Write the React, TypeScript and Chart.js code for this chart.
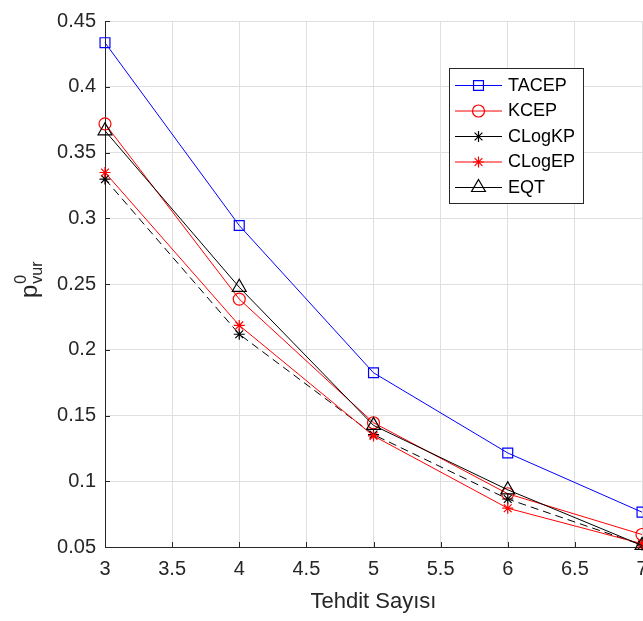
import React, { useEffect, useRef } from "react";
import { Chart, registerables } from "chart.js";

Chart.register(...registerables);

const threatCounts = [3, 4, 5, 6, 7];
const tacep = [0.4335, 0.2945, 0.1825, 0.1215, 0.0765];
const kcep = [0.3718, 0.2385, 0.1445, 0.0905, 0.0595];
const clogkp = [0.3298, 0.2118, 0.1355, 0.0865, 0.0515];
const clogep = [0.3348, 0.2185, 0.1345, 0.0795, 0.0525];
const eqt = [0.3665, 0.2475, 0.1425, 0.0935, 0.0512];
const seriesNames = ["TACEP", "KCEP", "CLogKP", "CLogEP", "EQT"];
const xTitle = "Tehdit Sayısı";

const FONT = '"Liberation Sans", Arial, Helvetica, sans-serif';
const AX = "#262626";

type Style = { color: string; marker: string; radius: number; dash: number[] };
const styles: Style[] = [
  { color: "#0000ff", marker: "rect", radius: 7, dash: [] },
  { color: "#ff0000", marker: "circle", radius: 6, dash: [] },
  { color: "#000000", marker: "star", radius: 5.5, dash: [8, 5] },
  { color: "#ff0000", marker: "star", radius: 5.5, dash: [] },
  { color: "#000000", marker: "triangle", radius: 8, dash: [] },
];

function drawMarker(ctx: CanvasRenderingContext2D, m: string, x: number, y: number, r: number, color: string) {
  ctx.save();
  ctx.strokeStyle = color;
  ctx.lineWidth = 1.2;
  ctx.setLineDash([]);
  ctx.beginPath();
  if (m === "rect") {
    const s = r * Math.SQRT1_2;
    ctx.rect(x - s, y - s, 2 * s, 2 * s);
  } else if (m === "circle") {
    ctx.arc(x, y, r, 0, Math.PI * 2);
  } else if (m === "star") {
    for (let k = 0; k < 4; k++) {
      const a = (k * Math.PI) / 4;
      ctx.moveTo(x + Math.cos(a) * r, y + Math.sin(a) * r);
      ctx.lineTo(x - Math.cos(a) * r, y - Math.sin(a) * r);
    }
  } else if (m === "triangle") {
    let rad = 0;
    ctx.moveTo(x + Math.sin(rad) * r, y - Math.cos(rad) * r);
    rad += (2 * Math.PI) / 3;
    ctx.lineTo(x + Math.sin(rad) * r, y - Math.cos(rad) * r);
    rad += (2 * Math.PI) / 3;
    ctx.lineTo(x + Math.sin(rad) * r, y - Math.cos(rad) * r);
    ctx.closePath();
  }
  ctx.stroke();
  ctx.restore();
}

const decorPlugin = {
  id: "decor",
  beforeDatasetsDraw(chart: any) {
    const ctx = chart.ctx as CanvasRenderingContext2D;
    const { left, bottom } = chart.chartArea;
    const xs = chart.scales.x;
    const ys = chart.scales.y;
    ctx.save();
    ctx.strokeStyle = AX;
    ctx.lineWidth = 1;
    ctx.beginPath();
    xs.ticks.forEach((t: any) => {
      const px = Math.round(xs.getPixelForValue(t.value)) + 0.5;
      ctx.moveTo(px, bottom);
      ctx.lineTo(px, bottom - 5);
    });
    ys.ticks.forEach((t: any) => {
      const py = Math.round(ys.getPixelForValue(t.value)) + 0.5;
      ctx.moveTo(left, py);
      ctx.lineTo(left + 5, py);
    });
    ctx.stroke();
    ctx.restore();
  },
  afterDraw(chart: any) {
    const ctx = chart.ctx as CanvasRenderingContext2D;
    const { left, right, top, bottom } = chart.chartArea;
    ctx.save();
    // x title
    ctx.fillStyle = AX;
    ctx.font = `22px ${FONT}`;
    ctx.textAlign = "center";
    ctx.textBaseline = "alphabetic";
    ctx.fillText(xTitle, (left + 642) / 2, 608);

    // y title p^0_vur
    ctx.save();
    ctx.translate(37, 298);
    ctx.rotate(-Math.PI / 2);
    ctx.textAlign = "left";
    ctx.font = `24px ${FONT}`;
    ctx.fillText("p", 0, 0);
    const pw = ctx.measureText("p").width;
    ctx.font = `16px ${FONT}`;
    ctx.fillText("0", pw + 1, -11);
    ctx.fillText("vur", pw + 1, 5);
    ctx.restore();

    // legend
    const bx = 449.5, by = 68.5, bw = 134, bh = 135;
    ctx.fillStyle = "#ffffff";
    ctx.fillRect(bx, by, bw, bh);
    ctx.strokeStyle = AX;
    ctx.lineWidth = 1;
    ctx.strokeRect(bx, by, bw, bh);
    const rows = [85, 110.5, 136, 161.5, 187];
    seriesNames.forEach((name, i) => {
      const st = styles[i];
      const yy = rows[i] + 0.5;
      ctx.strokeStyle = st.color;
      ctx.lineWidth = 1;
      ctx.setLineDash([]);
      ctx.beginPath();
      ctx.moveTo(455, yy);
      ctx.lineTo(502, yy);
      ctx.stroke();
      drawMarker(ctx, st.marker, 478.5, yy, st.radius, st.color);
      ctx.fillStyle = "#000000";
      ctx.font = `18px ${FONT}`;
      ctx.textAlign = "left";
      ctx.textBaseline = "middle";
      ctx.fillText(name, 508, rows[i] + 1);
    });
    ctx.restore();
  },
};

export default function App() {
  const ref = useRef<HTMLCanvasElement | null>(null);
  useEffect(() => {
    document.body.style.overflow = "hidden";
    const canvas = ref.current!;
    const all = [tacep, kcep, clogkp, clogep, eqt];
    const datasets = all.map((vals, i) => ({
      label: seriesNames[i],
      data: threatCounts.map((x, j) => ({ x, y: vals[j] })),
      borderColor: styles[i].color,
      backgroundColor: "rgba(0,0,0,0)",
      borderWidth: 1,
      borderDash: styles[i].dash,
      pointStyle: styles[i].marker,
      pointRadius: styles[i].radius,
      pointBorderWidth: 1.2,
      pointBorderColor: styles[i].color,
      pointBackgroundColor: "rgba(0,0,0,0)",
      tension: 0,
      fill: false,
      clip: false as any,
      order: all.length - 1 - i,
    }));
    const chart = new Chart(canvas, {
      type: "line",
      data: { datasets },
      options: {
        animation: false,
        responsive: false,
        devicePixelRatio: 1,
        layout: { padding: { left: 0, right: 58, top: 10, bottom: 0 } },
        plugins: { legend: { display: false }, tooltip: { enabled: false } },
        scales: {
          x: {
            type: "linear",
            min: 3,
            max: 7,
            ticks: {
              stepSize: 0.5,
              color: AX,
              padding: 10,
              font: { size: 20, family: FONT },
              callback: (v: any) => String(Math.round(Number(v) * 10) / 10),
            },
            grid: { color: "#dfdfdf", drawTicks: false },
            border: { color: AX, width: 1 },
            afterFit: (s: any) => {
              s.height = 74;
            },
          },
          y: {
            type: "linear",
            min: 0.05,
            max: 0.45,
            ticks: {
              stepSize: 0.05,
              color: AX,
              padding: 9,
              font: { size: 20, family: FONT },
              callback: (v: any) => String(Math.round(Number(v) * 100) / 100),
            },
            grid: { color: "#dfdfdf", drawTicks: false },
            border: { color: AX, width: 1 },
            afterFit: (s: any) => {
              s.width = 105;
            },
          },
        },
      },
      plugins: [decorPlugin],
    });
    return () => chart.destroy();
  }, []);
  return (
    <div style={{ position: "fixed", left: 0, top: 0, width: 700, height: 621, overflow: "hidden" }}>
      <canvas ref={ref} width={700} height={621} style={{ width: 700, height: 621, display: "block" }} />
    </div>
  );
}
